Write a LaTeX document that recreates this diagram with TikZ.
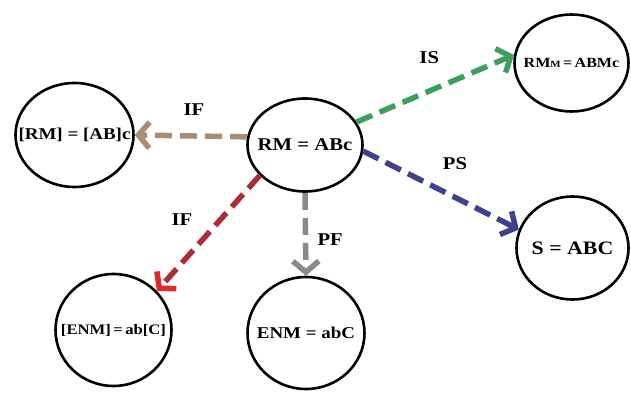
\documentclass[tikz,border=0pt]{standalone}
\usepackage{fontspec}
\setmainfont{Liberation Serif}[FakeStretch=1.15]
\usepackage{tikz}
\usetikzlibrary{arrows.meta,shapes.geometric,calc}
\definecolor{ifbrown}{RGB}{168,140,116}
\definecolor{isgreen}{RGB}{62,158,92}
\definecolor{psblue}{RGB}{62,66,140}
\definecolor{ifred}{RGB}{172,44,56}
\definecolor{tipred}{RGB}{226,40,42}
\definecolor{pfgray}{RGB}{138,138,138}
\newcommand{\nodetxt}[1]{\makebox[0pt][c]{#1}}

\begin{document}
\begin{tikzpicture}[x=1pt,y=-1pt,
    setnode/.style={ellipse,draw,line width=2.6pt,inner sep=0pt,font=\bfseries},
    trans/.style={line width=5.5pt,dash pattern=on 17pt off 8pt,
      -{Straight Barb[length=11pt,width=26pt]}}]
    \useasboundingbox (0,0) rectangle (631,395);
    \node[setnode,minimum width=115,minimum height=93,font=\bfseries\fontsize{18}{20}\selectfont]
      (rm) at (305,145) {\nodetxt{RM = ABc}};
    \node[setnode,minimum width=118,minimum height=104,font=\bfseries\fontsize{16.5}{18}\selectfont]
      (rmb) at (74.5,135) {\nodetxt{[RM] = [AB]c}};
    \node[setnode,minimum width=114,minimum height=97,font=\bfseries\fontsize{14}{16}\selectfont]
      (rmm) at (571.5,63) {\nodetxt{RM{\fontsize{9.5}{10}\selectfont M}\,=\,ABMc}};
    \node[setnode,minimum width=112,minimum height=103,font=\bfseries\fontsize{19}{21}\selectfont]
      (s) at (572.5,248) {\nodetxt{S = ABC}};
    \node[setnode,minimum width=116,minimum height=112,font=\bfseries\fontsize{14.5}{16}\selectfont]
      (enmb) at (113.5,330) {\nodetxt{[ENM]\,=\,ab[C]}};
    \node[setnode,minimum width=117,minimum height=112,font=\bfseries\fontsize{16.5}{18}\selectfont]
      (enm) at (306,333) {\nodetxt{ENM = abC}};
    \path[font=\bfseries\fontsize{18}{20}\selectfont]
      (rm.172) edge[trans,draw=ifbrown] node[above=14pt,xshift=3pt]{IF} (rmb.east)
      (rm.24) edge[trans,draw=isgreen] node[above=19pt,xshift=-6pt]{IS} (rmm.172)
      (rm.-6) edge[trans,draw=psblue] node[above=15pt,xshift=14pt]{PS} (s.161)
      (rm.214) edge[trans,draw=ifred,-{Straight Barb[length=11pt,width=26pt,color=tipred]}]
        node[above left=6pt,xshift=-4pt,yshift=-4pt]{IF} (enmb.42)
      (rm.south) edge[trans,draw=pfgray] node[right=6pt,yshift=-5pt]{PF} (enm.north);
  \end{tikzpicture}
\end{document}
